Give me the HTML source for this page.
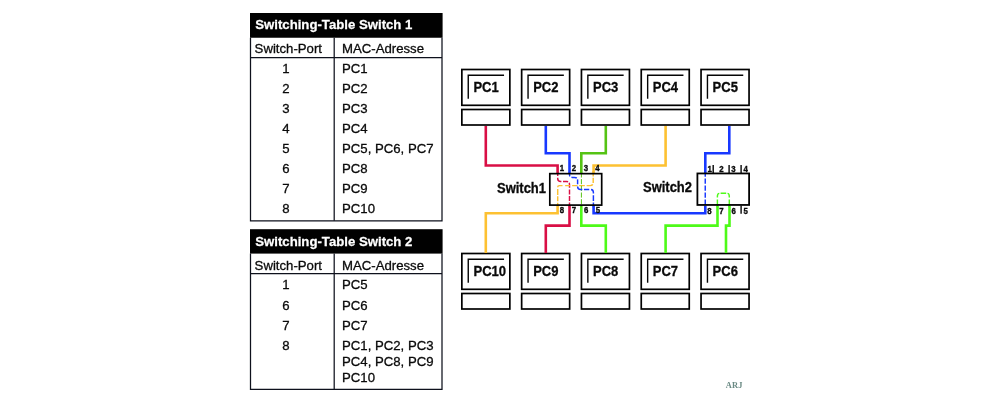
<!DOCTYPE html><html><head><meta charset="utf-8"><title>Switching</title><style>
html,body{margin:0;padding:0;background:#fff}body{width:1000px;height:400px;overflow:hidden;position:relative;font-family:'Liberation Sans',sans-serif}
svg{position:absolute;left:0;top:0;will-change:transform;opacity:.999}text{font-family:'Liberation Sans',sans-serif;fill:#0a0a0a}
.b{font-weight:bold}.t{font-size:13.4px;stroke:#0a0a0a;stroke-width:.3}.wt{fill:#fff;stroke:#fff;stroke-width:.25}.g{font-size:14px;font-weight:bold;stroke:#0a0a0a;stroke-width:.3}.p{font-size:8.7px;font-weight:bold;stroke:#0a0a0a;stroke-width:.35}
.w{fill:none;stroke-width:2.6;stroke-linejoin:miter;stroke-linecap:butt}
.d{fill:none;stroke-width:1.45;stroke-dasharray:5 1.6}.dt{stroke-width:1}
.k{fill:none;stroke:#000;stroke-width:1.7}.k1{fill:none;stroke:#0e111c;stroke-width:1.25}.k2{fill:none;stroke:#050505;stroke-width:1.4}
</style></head><body><svg width="1000" height="400" viewBox="0 0 1000 400">
<rect x="250" y="13" width="192.6" height="24.75" fill="#000"/>
<text transform="translate(255.2 28.6) scale(0.985 1)" class="t b wt">Switching-Table Switch 1</text>
<path d="M250.5 37.75 V220.8 H442 V37.75" class="k1"/>
<path d="M250 57.5 H442" class="k1"/>
<path d="M334.2 37.75 V220.8" class="k1"/>
<text transform="translate(254.6 52.9) scale(0.985 1)" class="t">Switch-Port</text>
<text transform="translate(342.0 52.9) scale(0.985 1)" class="t">MAC-Adresse</text>
<text transform="translate(285.8 72.75) scale(0.985 1)" class="t" text-anchor="middle">1</text>
<text transform="translate(342.0 72.75) scale(0.985 1)" class="t">PC1</text>
<text transform="translate(285.8 92.8) scale(0.985 1)" class="t" text-anchor="middle">2</text>
<text transform="translate(342.0 92.8) scale(0.985 1)" class="t">PC2</text>
<text transform="translate(285.8 112.85) scale(0.985 1)" class="t" text-anchor="middle">3</text>
<text transform="translate(342.0 112.85) scale(0.985 1)" class="t">PC3</text>
<text transform="translate(285.8 132.9) scale(0.985 1)" class="t" text-anchor="middle">4</text>
<text transform="translate(342.0 132.9) scale(0.985 1)" class="t">PC4</text>
<text transform="translate(285.8 152.95) scale(0.985 1)" class="t" text-anchor="middle">5</text>
<text transform="translate(342.0 152.95) scale(0.985 1)" class="t">PC5, PC6, PC7</text>
<text transform="translate(285.8 173.0) scale(0.985 1)" class="t" text-anchor="middle">6</text>
<text transform="translate(342.0 173.0) scale(0.985 1)" class="t">PC8</text>
<text transform="translate(285.8 193.05) scale(0.985 1)" class="t" text-anchor="middle">7</text>
<text transform="translate(342.0 193.05) scale(0.985 1)" class="t">PC9</text>
<text transform="translate(285.8 213.1) scale(0.985 1)" class="t" text-anchor="middle">8</text>
<text transform="translate(342.0 213.1) scale(0.985 1)" class="t">PC10</text>
<rect x="250" y="229.2" width="192.6" height="24.400000000000006" fill="#000"/>
<text transform="translate(255.2 245.6) scale(0.985 1)" class="t b wt">Switching-Table Switch 2</text>
<path d="M250.5 253.6 V389.3 H442 V253.6" class="k1"/>
<path d="M250 273.7 H442" class="k1"/>
<path d="M334.2 253.6 V389.3" class="k1"/>
<text transform="translate(254.6 269.9) scale(0.985 1)" class="t">Switch-Port</text>
<text transform="translate(342.0 269.9) scale(0.985 1)" class="t">MAC-Adresse</text>
<text transform="translate(285.8 289.4) scale(0.985 1)" class="t" text-anchor="middle">1</text>
<text transform="translate(342.0 289.4) scale(0.985 1)" class="t">PC5</text>
<text transform="translate(285.8 309.5) scale(0.985 1)" class="t" text-anchor="middle">6</text>
<text transform="translate(342.0 309.5) scale(0.985 1)" class="t">PC6</text>
<text transform="translate(285.8 329.6) scale(0.985 1)" class="t" text-anchor="middle">7</text>
<text transform="translate(342.0 329.6) scale(0.985 1)" class="t">PC7</text>
<text transform="translate(285.8 349.5) scale(0.985 1)" class="t" text-anchor="middle">8</text>
<text transform="translate(342.0 349.5) scale(0.985 1)" class="t">PC1, PC2, PC3</text>
<text transform="translate(342.0 365.9) scale(0.985 1)" class="t">PC4, PC8, PC9</text>
<text transform="translate(342.0 382.1) scale(0.985 1)" class="t">PC10</text>
<rect x="461.85" y="69.5" width="48" height="35.8" class="k"/>
<rect x="461.85" y="109.5" width="48" height="15.5" class="k"/>
<path d="M468.25 98.8 V75.25 H504.05" class="k2"/>
<text transform="translate(473.4 91.85) scale(0.93 1)" class="g">PC1</text>
<rect x="521.65" y="69.5" width="48" height="35.8" class="k"/>
<rect x="521.65" y="109.5" width="48" height="15.5" class="k"/>
<path d="M528.05 98.8 V75.25 H563.85" class="k2"/>
<text transform="translate(533.2 91.85) scale(0.93 1)" class="g">PC2</text>
<rect x="581.45" y="69.5" width="48" height="35.8" class="k"/>
<rect x="581.45" y="109.5" width="48" height="15.5" class="k"/>
<path d="M587.85 98.8 V75.25 H623.65" class="k2"/>
<text transform="translate(593.0 91.85) scale(0.93 1)" class="g">PC3</text>
<rect x="641.25" y="69.5" width="48" height="35.8" class="k"/>
<rect x="641.25" y="109.5" width="48" height="15.5" class="k"/>
<path d="M647.65 98.8 V75.25 H683.45" class="k2"/>
<text transform="translate(652.8 91.85) scale(0.93 1)" class="g">PC4</text>
<rect x="701.05" y="69.5" width="48" height="35.8" class="k"/>
<rect x="701.05" y="109.5" width="48" height="15.5" class="k"/>
<path d="M707.45 98.8 V75.25 H743.25" class="k2"/>
<text transform="translate(712.6 91.85) scale(0.93 1)" class="g">PC5</text>
<rect x="461.85" y="253.5" width="48" height="35.8" class="k"/>
<rect x="461.85" y="293.5" width="48" height="15.5" class="k"/>
<path d="M468.25 282.8 V259.25 H504.05" class="k2"/>
<text transform="translate(473.4 275.85) scale(0.935 1)" class="g">PC10</text>
<rect x="521.65" y="253.5" width="48" height="35.8" class="k"/>
<rect x="521.65" y="293.5" width="48" height="15.5" class="k"/>
<path d="M528.05 282.8 V259.25 H563.85" class="k2"/>
<text transform="translate(533.2 275.85) scale(0.93 1)" class="g">PC9</text>
<rect x="581.45" y="253.5" width="48" height="35.8" class="k"/>
<rect x="581.45" y="293.5" width="48" height="15.5" class="k"/>
<path d="M587.85 282.8 V259.25 H623.65" class="k2"/>
<text transform="translate(593.0 275.85) scale(0.93 1)" class="g">PC8</text>
<rect x="641.25" y="253.5" width="48" height="35.8" class="k"/>
<rect x="641.25" y="293.5" width="48" height="15.5" class="k"/>
<path d="M647.65 282.8 V259.25 H683.45" class="k2"/>
<text transform="translate(652.8 275.85) scale(0.93 1)" class="g">PC7</text>
<rect x="701.05" y="253.5" width="48" height="35.8" class="k"/>
<rect x="701.05" y="293.5" width="48" height="15.5" class="k"/>
<path d="M707.45 282.8 V259.25 H743.25" class="k2"/>
<text transform="translate(712.6 275.85) scale(0.93 1)" class="g">PC6</text>
<path class="w" stroke="#d90f45" d="M485.8 125.9 V165.5 H557.6 V173"/>
<path class="w" stroke="#1838ff" d="M545.8 125.9 V153.3 H569.5 V173"/>
<path class="w" stroke="#55c314" d="M605.8 125.9 V153.3 H581.3 V173"/>
<path class="w" stroke="#fdc132" d="M665.6 125.9 V165.5 H593.6 V173"/>
<path class="w" stroke="#1838ff" d="M729.3 125.9 V153.3 H705.3 V173"/>
<path class="w" stroke="#fdc132" d="M557.6 205.8 V213.2 H485.8 V253"/>
<path class="w" stroke="#d90f45" d="M569.5 205.8 V225.6 H545.8 V253"/>
<path class="w" stroke="#4efa18" d="M581.3 205.8 V225.6 H605.8 V253"/>
<path class="w" stroke="#1838ff" d="M593.6 205.8 V213.2 H705.3 V205.8"/>
<path class="w" stroke="#4efa18" d="M717.5 205.8 V225.6 H665.6 V253"/>
<path class="w" stroke="#4efa18" d="M729.5 205.8 V225.6 H726 V253"/>
<path class="d" style="stroke-dasharray:5 1.6 5 1.6 5 1.6 5 1.6 5 1.6 6.1 1.8 5" stroke="#d90f45" d="M569.5 207.6 V184.45 Q569.5 181.45 566.5 181.45 H560.7 Q557.7 181.45 557.7 178.45 V172.5"/>
<path class="d" style="stroke-dasharray:5.4 1.3 5.2 1.5 6.5 1.8 5.7 1.7 5.3 2.2 4.8 2.6 5.6 1.6 6 1.3 4.9 1.7 6" stroke="#fdc132" d="M593.2 171 V182.6 Q593.2 185.6 590.2 185.6 H559.4 Q557.7 185.6 557.7 187.3 V207.6"/>
<path class="d dt" stroke="#55c314" style="stroke-dasharray:5.1 1.6" d="M581.4 172.4 V207.6"/>
<path class="d" style="stroke-dasharray:5 1.7 5.7 1.8 5.1 1.7 5.3 1.6 6.5 2.2 4.85 1.5 5.3 2 4" stroke="#1838ff" d="M593.4 207.6 V192.5 Q593.4 189.5 590.4 189.5 H580.6 Q577.6 189.5 577.6 186.5 V180.4 Q577.6 177.4 574.6 177.4 H572.5 Q569.5 177.4 569.5 174.4 V172.5"/>
<path class="d" style="stroke-dasharray:5.2 1.8" stroke="#1838ff" d="M705.25 171.6 V207.6"/>
<path fill="none" stroke-width="1.45" stroke="#4efa18" d="M717.4 207 V199.6 M717.4 197.6 V196.3 Q717.4 193.5 719.3 193.35 M720.6 193.3 H726.2 M727.5 193.35 Q729.3 193.5 729.3 196.3 V197.6 M729.3 199.6 V207"/>
<rect x="549.8" y="173.65" width="51.9" height="31.45" fill="none" stroke="#000" stroke-width="1.7"/>
<rect x="697.4" y="173.45" width="51.7" height="31.5" fill="none" stroke="#000" stroke-width="1.8"/>
<path class="k2" d="M713.2 165 V173"/>
<path class="k2" d="M729.1 165 V173"/>
<path class="k2" d="M741.1 165 V173"/>
<path class="k2" d="M741.1 205.5 V213.7"/>
<text transform="translate(497 192.8) scale(0.926 1)" class="g" style="font-size:14px">Switch1</text>
<text transform="translate(643 191.7) scale(0.926 1)" class="g" style="font-size:14px">Switch2</text>
<text transform="translate(562 170.6) scale(0.9 1)" class="p" text-anchor="middle">1</text>
<text transform="translate(573.9 170.6) scale(0.9 1)" class="p" text-anchor="middle">2</text>
<text transform="translate(585.8 170.6) scale(0.9 1)" class="p" text-anchor="middle">3</text>
<text transform="translate(597.5 170.6) scale(0.9 1)" class="p" text-anchor="middle">4</text>
<text transform="translate(561.8 212.7) scale(0.9 1)" class="p" text-anchor="middle">8</text>
<text transform="translate(573.9 212.7) scale(0.9 1)" class="p" text-anchor="middle">7</text>
<text transform="translate(586.1 212.7) scale(0.9 1)" class="p" text-anchor="middle">6</text>
<text transform="translate(597.8 212.7) scale(0.9 1)" class="p" text-anchor="middle">5</text>
<text transform="translate(709.7 171.55) scale(0.9 1)" class="p" text-anchor="middle">1</text>
<text transform="translate(721.45 171.55) scale(0.9 1)" class="p" text-anchor="middle">2</text>
<text transform="translate(733.4 171.55) scale(0.9 1)" class="p" text-anchor="middle">3</text>
<text transform="translate(745.65 171.55) scale(0.9 1)" class="p" text-anchor="middle">4</text>
<text transform="translate(709.3 213.6) scale(0.9 1)" class="p" text-anchor="middle">8</text>
<text transform="translate(721.5 213.6) scale(0.9 1)" class="p" text-anchor="middle">7</text>
<text transform="translate(733.6 213.6) scale(0.9 1)" class="p" text-anchor="middle">6</text>
<text transform="translate(745.6 213.6) scale(0.9 1)" class="p" text-anchor="middle">5</text>
<text x="725.8" y="387.8" style="font-family:'Liberation Serif',serif;font-size:8.4px;fill:#6a8a84;font-weight:bold;letter-spacing:.2px">ARJ</text>
</svg></body></html>
